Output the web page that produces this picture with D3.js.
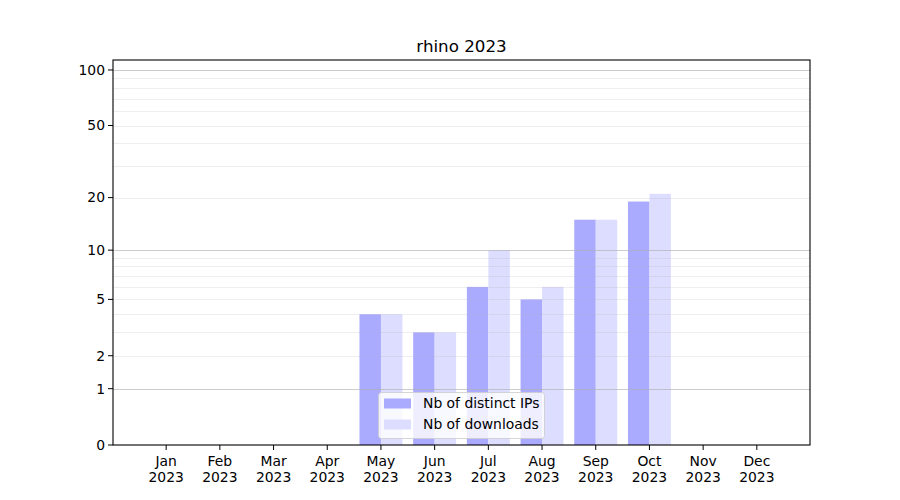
<!DOCTYPE html>
<html>
<head>
<meta charset="utf-8">
<script src="https://cdn.jsdelivr.net/npm/d3@7"></script>
<style>
body { margin: 0; background: #fff; }
svg { font-family: "DejaVu Sans", sans-serif; }
</style>
</head>
<body>
<svg id="chart" width="900" height="500"></svg>
<script>
const title = "rhino 2023";
const months = ["Jan", "Feb", "Mar", "Apr", "May", "Jun", "Jul", "Aug", "Sep", "Oct", "Nov", "Dec"];
const year = "2023";
const distinctIPs = [0, 0, 0, 0, 4, 3, 6, 5, 15, 19, 0, 0];
const downloads = [0, 0, 0, 0, 4, 3, 10, 6, 15, 21, 0, 0];
const seriesNames = ["Nb of distinct IPs", "Nb of downloads"];
const yTickValues = [0, 1, 2, 5, 10, 20, 50, 100];
const majorGrid = [1, 10, 100];
const minorGrid = [2, 3, 4, 5, 6, 7, 8, 9, 20, 30, 40, 50, 60, 70, 80, 90];

(function () {
const svg = d3.select("#chart");
const pL = 113, pR = 810, pT = 60, pB = 445;
const fs = 13.9;

const x = d3.scaleLinear().domain([-0.99, 11.99]).range([pL, pR]);
// log(1 + v) scale
const yBase = d3.scaleLinear().domain([0, Math.log10(114.2)]).range([pB, pT]);
const y = v => yBase(Math.log10(1 + v));

const colors = ["#aaaaff", "#ddddff"];
const barW = 0.4;

const g = svg.append("g");

// bars
const series = [distinctIPs, downloads];
series.forEach((vals, s) => {
  g.selectAll(null).data(vals).enter().append("rect")
    .attr("x", (d, i) => x(i + (s === 0 ? -barW : 0)))
    .attr("width", x(barW) - x(0))
    .attr("y", d => y(d))
    .attr("height", d => pB - y(d))
    .attr("fill", colors[s]);
});

// grid (drawn over bars)
g.selectAll(null).data(minorGrid).enter().append("line")
  .attr("x1", pL).attr("x2", pR)
  .attr("y1", d => Math.round(y(d)) + 0.5).attr("y2", d => Math.round(y(d)) + 0.5)
  .attr("stroke", "#b0b0b0").attr("stroke-opacity", 0.22).attr("stroke-width", 1);
g.selectAll(null).data(majorGrid).enter().append("line")
  .attr("x1", pL).attr("x2", pR)
  .attr("y1", d => Math.round(y(d)) + 0.5).attr("y2", d => Math.round(y(d)) + 0.5)
  .attr("stroke", "#b0b0b0").attr("stroke-opacity", 0.65).attr("stroke-width", 1);

// frame
svg.append("rect").attr("x", pL).attr("y", pT)
  .attr("width", pR - pL).attr("height", pB - pT)
  .attr("fill", "none").attr("stroke", "#000").attr("stroke-width", 1.1);

// y ticks
const yt = svg.append("g");
yTickValues.forEach(v => {
  const yy = y(v);
  yt.append("line").attr("x1", pL - 5).attr("x2", pL).attr("y1", yy).attr("y2", yy)
    .attr("stroke", "#000").attr("stroke-width", 1);
  yt.append("text").attr("x", pL - 8).attr("y", yy).attr("dy", "0.35em")
    .attr("text-anchor", "end").attr("font-size", fs).attr("fill", "#000").text(v);
});

// x ticks
const xt = svg.append("g");
months.forEach((m, i) => {
  const xx = x(i);
  xt.append("line").attr("x1", xx).attr("x2", xx).attr("y1", pB).attr("y2", pB + 5)
    .attr("stroke", "#000").attr("stroke-width", 1);
  const t = xt.append("text").attr("x", xx).attr("y", pB + 21)
    .attr("text-anchor", "middle").attr("font-size", fs).attr("fill", "#000");
  t.append("tspan").attr("x", xx).text(m);
  t.append("tspan").attr("x", xx).attr("dy", 16).text(year);
});

// title
svg.append("text").attr("x", (pL + pR) / 2).attr("y", 52)
  .attr("text-anchor", "middle").attr("font-size", 16.7).attr("fill", "#000").text(title);

// legend
const lg = svg.append("g");
lg.append("rect").attr("x", 378.5).attr("y", 392.5).attr("width", 166).attr("height", 46)
  .attr("rx", 3).attr("fill", "#fff").attr("fill-opacity", 0.8)
  .attr("stroke", "#cccccc").attr("stroke-opacity", 0.8);
seriesNames.forEach((n, i) => {
  const cy = 403.5 + i * 21;
  lg.append("rect").attr("x", 384).attr("y", cy - 5).attr("width", 27).attr("height", 10)
    .attr("fill", colors[i]);
  lg.append("text").attr("x", 423).attr("y", cy).attr("dy", "0.35em")
    .attr("font-size", fs).attr("fill", "#000").text(n);
});
})();
</script>
</body>
</html>
